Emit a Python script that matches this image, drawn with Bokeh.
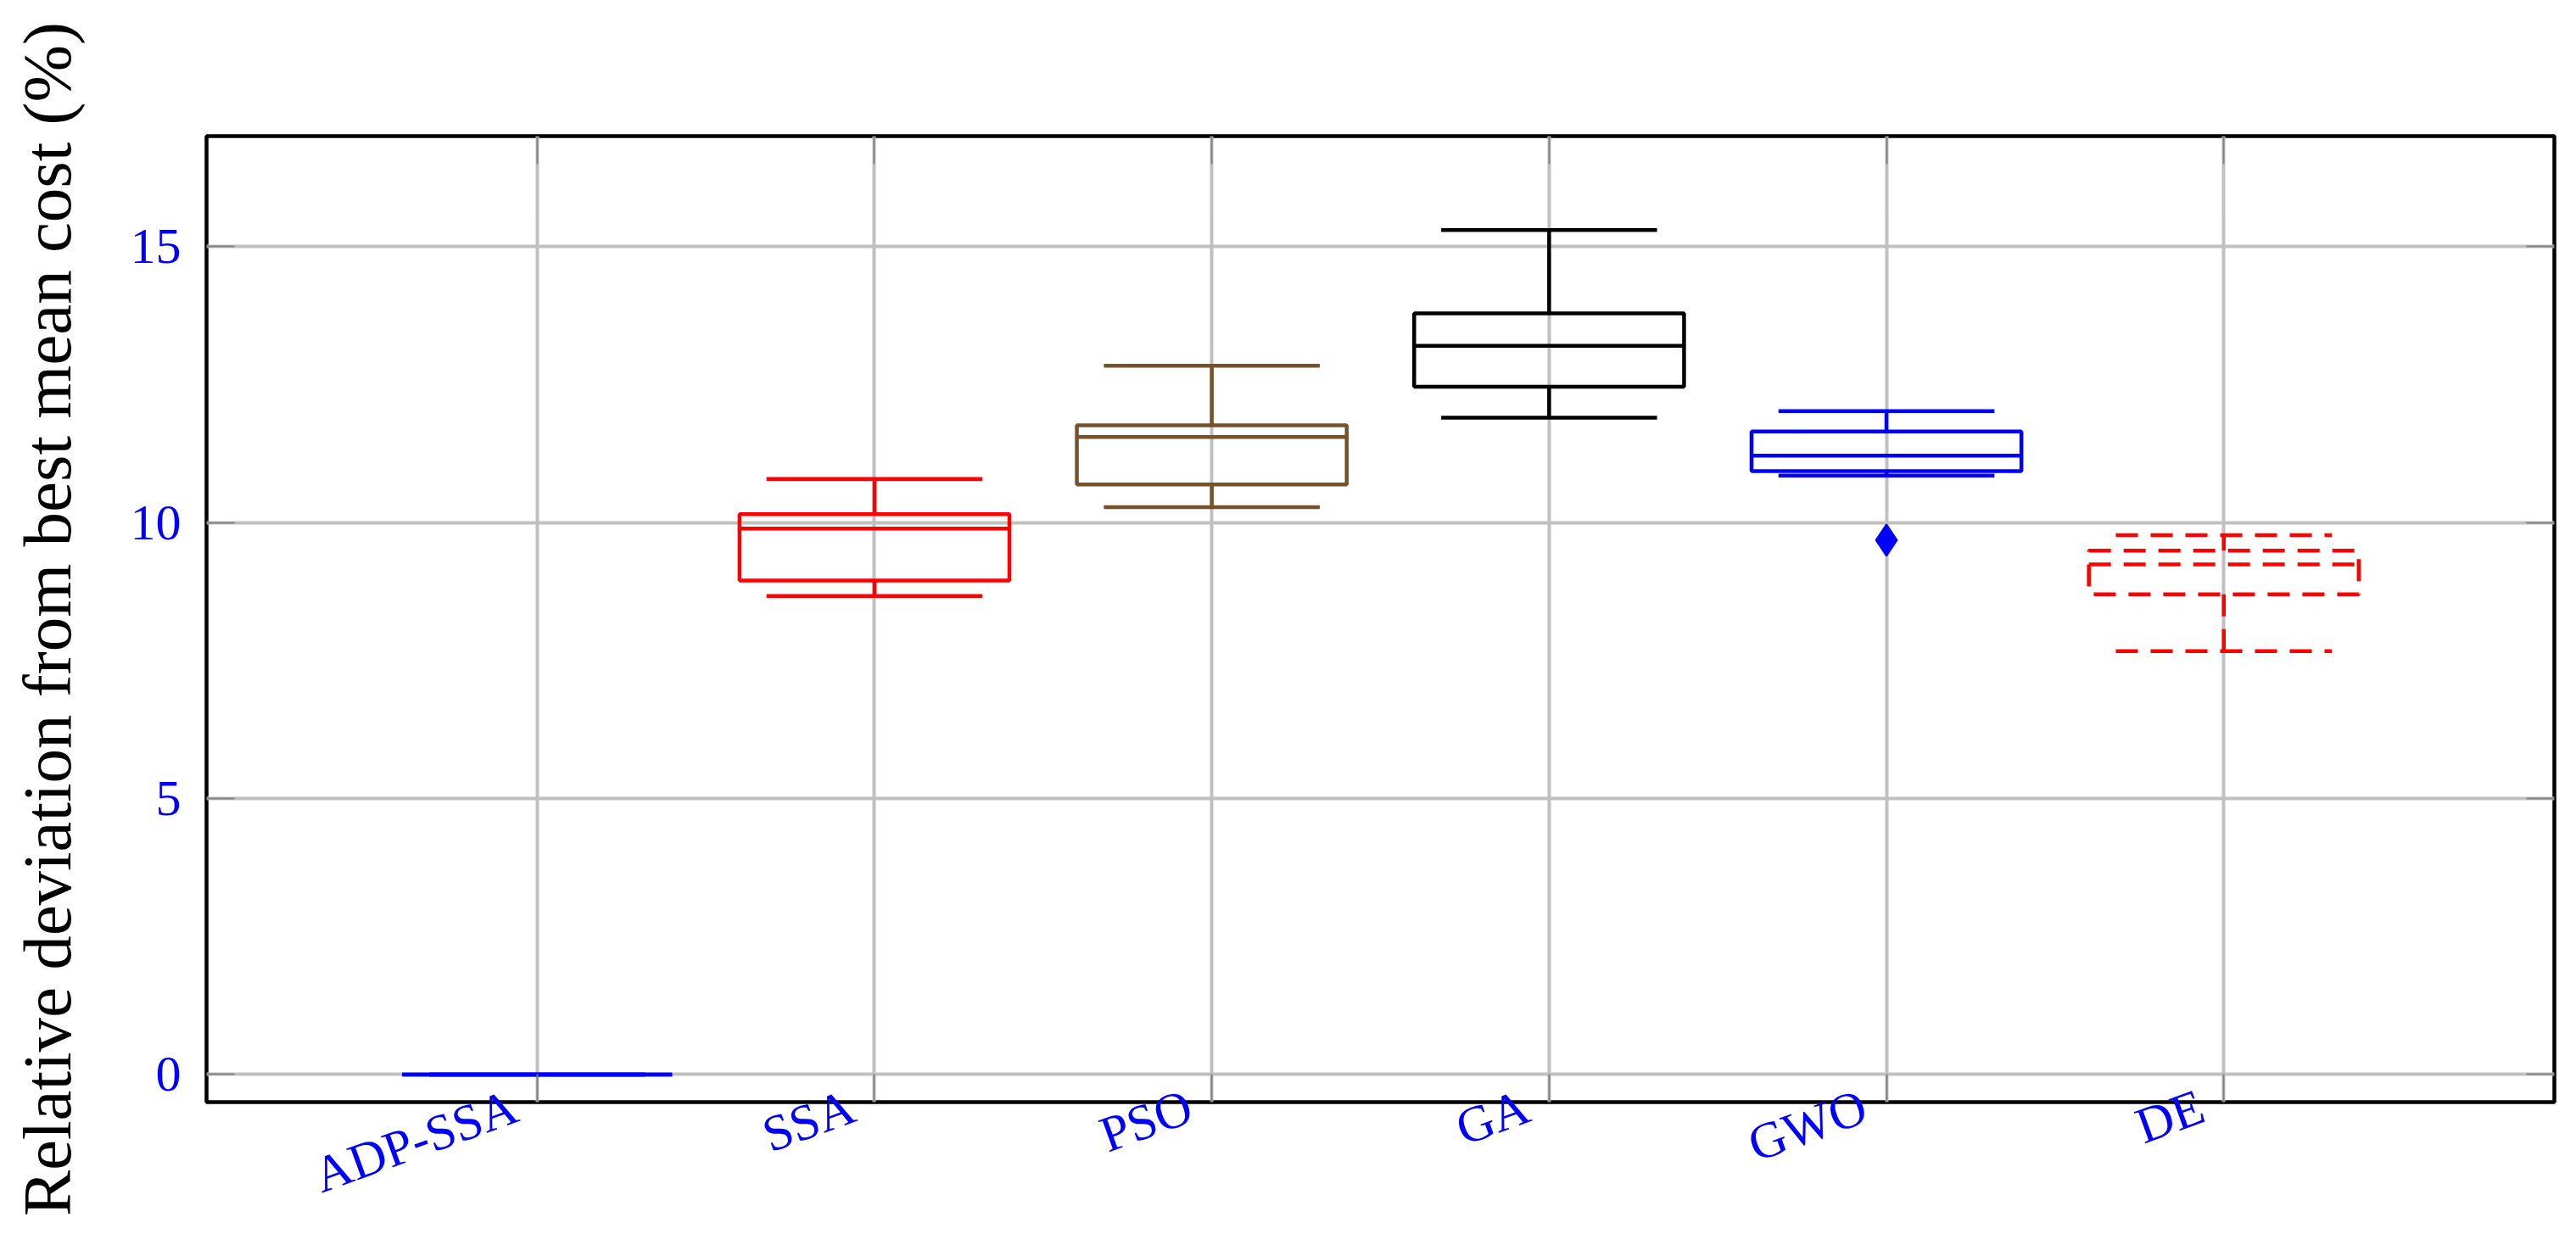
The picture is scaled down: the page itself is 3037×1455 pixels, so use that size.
import math
from bokeh.plotting import figure
from bokeh.models import FixedTicker, LinearAxis, Range1d
from bokeh.embed import file_html
from bokeh.resources import INLINE

# ---- data ----
categories = ["ADP-SSA", "SSA", "PSO", "GA", "GWO", "DE"]
lower_whisker = [0.0, 8.67, 10.28, 11.90, 10.85, 7.67]
q1 = [0.0, 8.95, 10.69, 12.46, 10.93, 8.70]
median = [0.0, 9.89, 11.55, 13.20, 11.21, 9.24]
q3 = [0.0, 10.15, 11.76, 13.79, 11.65, 9.49]
upper_whisker = [0.0, 10.79, 12.84, 15.30, 12.02, 9.77]
outlier_category = ["GWO"]
outlier_value = [9.68]
y_ticks = [0, 5, 10, 15]
y_label = "Relative deviation from best mean cost (%)"

# ---- styles ----
colors = ["#0000ff", "#ff0000", "#76522b", "#000000", "#0000ff", "#ff0000"]
dashes = ["solid", "solid", "solid", "solid", "solid", "26 15"]
BOX_HALF = 0.4
CAP_HALF = 0.32
LW = 4.5
FONT = "Liberation Serif"
LABEL_SHIFT = 0.065

positions = [i + 1 for i in range(len(categories))]

p = figure(frame_width=2768, frame_height=1139,
           x_range=Range1d(0.02, 6.98), y_range=Range1d(-0.5, 17),
           output_backend="svg", toolbar_location=None,
           min_border_left=243, min_border_top=160,
           min_border_right=6, min_border_bottom=140)
p.background_fill_color = "white"
p.border_fill_color = "white"
p.outline_line_color = "black"
p.outline_line_width = 4.5

for i, x in enumerate(positions):
    c = colors[i]
    d = dashes[i]
    p.quad(left=[x - BOX_HALF], right=[x + BOX_HALF], bottom=[q1[i]], top=[q3[i]],
           fill_color=None, line_color=c, line_width=LW, line_dash=d)
    p.segment(x0=[x - BOX_HALF], x1=[x + BOX_HALF], y0=[median[i]], y1=[median[i]],
              line_color=c, line_width=LW, line_dash=d)
    p.segment(x0=[x, x], x1=[x, x], y0=[q3[i], q1[i]], y1=[upper_whisker[i], lower_whisker[i]],
              line_color=c, line_width=LW, line_dash=d)
    p.segment(x0=[x - CAP_HALF, x - CAP_HALF], x1=[x + CAP_HALF, x + CAP_HALF],
              y0=[upper_whisker[i], lower_whisker[i]], y1=[upper_whisker[i], lower_whisker[i]],
              line_color=c, line_width=LW, line_dash=d)

ox = [positions[categories.index(c)] for c in outlier_category]
oc = [colors[categories.index(c)] for c in outlier_category]
p.scatter(x=ox, y=outlier_value, marker="diamond", size=37,
          fill_color=oc[0], line_color=oc[0], line_width=2)

# grids
p.xgrid.ticker = FixedTicker(ticks=positions, minor_ticks=[])
p.ygrid.ticker = FixedTicker(ticks=y_ticks, minor_ticks=[])
for g in (p.xgrid, p.ygrid):
    g.grid_line_color = "#c0c0c0"
    g.grid_line_width = 4

TICK_COLOR = "#808080"

# bottom axis: labels (shifted) as major, tick marks as minor
label_pos = [round(x - LABEL_SHIFT, 3) for x in positions]
xa = p.xaxis[0]
xa.ticker = FixedTicker(ticks=label_pos, minor_ticks=positions)
xa.major_label_overrides = {lp: cat for lp, cat in zip(label_pos, categories)}
xa.axis_line_color = None
xa.major_tick_in = 0
xa.major_tick_out = 0
xa.major_tick_line_color = None
xa.minor_tick_in = 33
xa.minor_tick_out = 0
xa.minor_tick_line_color = TICK_COLOR
xa.minor_tick_line_width = 2
xa.major_label_orientation = math.radians(20)
xa.major_label_standoff = 3
xa.major_label_text_font = FONT
xa.major_label_text_font_size = "60px"
xa.major_label_text_color = "#0000ff"

# left axis
ya = p.yaxis[0]
ya.ticker = FixedTicker(ticks=y_ticks, minor_ticks=[])
ya.axis_line_color = None
ya.major_tick_in = 33
ya.major_tick_out = 0
ya.major_tick_line_color = TICK_COLOR
ya.major_tick_line_width = 2
ya.minor_tick_line_color = None
ya.major_label_standoff = 30
ya.major_label_text_font = FONT
ya.major_label_text_font_size = "60px"
ya.major_label_text_color = "#0000ff"
ya.axis_label = y_label
ya.axis_label_text_font = FONT
ya.axis_label_text_font_size = "81px"
ya.axis_label_text_font_style = "normal"
ya.axis_label_text_color = "black"
ya.axis_label_standoff = 50

# mirrored tick marks (no labels drawn)
top = LinearAxis(ticker=FixedTicker(ticks=positions, minor_ticks=[]),
                 axis_line_color=None, major_tick_in=33, major_tick_out=0,
                 major_tick_line_color=TICK_COLOR, major_tick_line_width=2,
                 minor_tick_line_color=None, major_label_text_font_size="0px",
                 major_label_text_color=None, major_label_standoff=0)
p.add_layout(top, "above")
right = LinearAxis(ticker=FixedTicker(ticks=y_ticks, minor_ticks=[]),
                   axis_line_color=None, major_tick_in=33, major_tick_out=0,
                   major_tick_line_color=TICK_COLOR, major_tick_line_width=2,
                   minor_tick_line_color=None, major_label_text_font_size="0px",
                   major_label_text_color=None, major_label_standoff=0)
p.add_layout(right, "right")

open("out.html", "w").write(file_html(p, INLINE))
